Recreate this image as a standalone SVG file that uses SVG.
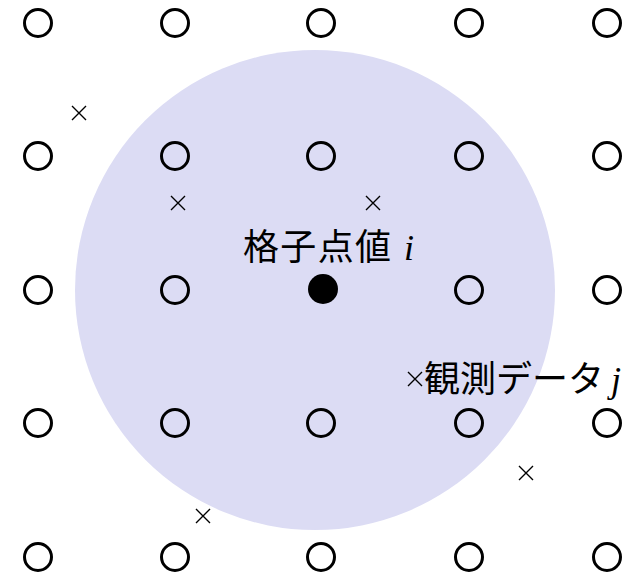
<svg xmlns="http://www.w3.org/2000/svg" width="635" height="579" viewBox="0 0 635 579">
<style>
.g{fill:none;stroke:#000;stroke-width:3}
.x{stroke:#000;stroke-width:1.4}
.t{font-family:"Noto Sans CJK JP","Noto Sans",sans-serif;font-size:36px;fill:#000}
.m{font-family:"Liberation Serif",serif;font-style:italic;font-size:36px;fill:#000}
</style>
<defs>
<g id="cr"><path class="x" d="M-7,-7L7,7M7,-7L-7,7"/></g>
</defs>
<circle id="radius" cx="315" cy="290" r="240" fill="#dcdcf4"/>
<g id="grid">
<circle class="g" cx="38" cy="23" r="13.5"/><circle class="g" cx="175" cy="23" r="13.5"/><circle class="g" cx="321" cy="23" r="13.5"/><circle class="g" cx="469" cy="23" r="13.5"/><circle class="g" cx="607" cy="23" r="13.5"/>
<circle class="g" cx="38" cy="156" r="13.5"/><circle class="g" cx="175" cy="156" r="13.5"/><circle class="g" cx="321" cy="156" r="13.5"/><circle class="g" cx="469" cy="156" r="13.5"/><circle class="g" cx="607" cy="156" r="13.5"/>
<circle class="g" cx="38" cy="290" r="13.5"/><circle class="g" cx="175" cy="290" r="13.5"/><circle class="g" cx="469" cy="290" r="13.5"/><circle class="g" cx="607" cy="290" r="13.5"/>
<circle class="g" cx="38" cy="423" r="13.5"/><circle class="g" cx="175" cy="423" r="13.5"/><circle class="g" cx="321" cy="423" r="13.5"/><circle class="g" cx="469" cy="423" r="13.5"/><circle class="g" cx="607" cy="423" r="13.5"/>
<circle class="g" cx="38" cy="557" r="13.5"/><circle class="g" cx="175" cy="557" r="13.5"/><circle class="g" cx="321" cy="557" r="13.5"/><circle class="g" cx="469" cy="557" r="13.5"/><circle class="g" cx="607" cy="557" r="13.5"/>
</g>
<g id="center"><circle cx="323" cy="289" r="15" fill="#000"/>
<text class="t" x="243" y="260" textLength="148">格子点値</text><text class="m" x="404" y="260">i</text></g>
<g id="obs">
<use href="#cr" x="79" y="113"/><use href="#cr" x="178" y="203"/><use href="#cr" x="373" y="203"/><use href="#cr" x="203" y="516"/><use href="#cr" x="526" y="473"/><use href="#cr" x="415" y="379"/>
<text class="t" x="424" y="392">観測データ</text><text class="m" x="611" y="392">j</text>
</g>
</svg>
